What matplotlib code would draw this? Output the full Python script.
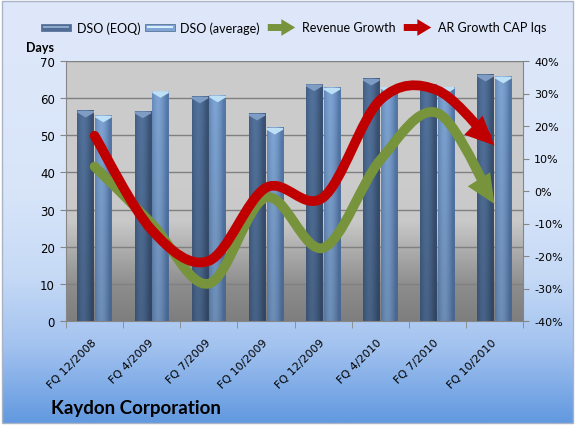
import numpy as np
import matplotlib
matplotlib.use("Agg")
import matplotlib.pyplot as plt
from matplotlib.path import Path
from matplotlib.patches import PathPatch, Rectangle, Polygon, FancyArrowPatch
from matplotlib.colors import LinearSegmentedColormap, to_rgb

quarters = ["FQ 12/2008", "FQ 4/2009", "FQ 7/2009", "FQ 10/2009",
            "FQ 12/2009", "FQ 4/2010", "FQ 7/2010", "FQ 10/2010"]
dso_eoq = [56.6, 56.4, 60.4, 55.8, 63.7, 65.2, 63.7, 66.3]
dso_avg = [55.3, 61.9, 60.7, 52.0, 62.8, 63.0, 63.0, 65.8]
revenue_growth = [7.5, -10.0, -28.5, -2.0, -17.5, 9.5, 24.0, -4.0]
ar_growth = [17.0, -12.0, -21.5, 1.0, -2.0, 28.0, 31.0, 14.0]

W, H = 575, 427
RED = "#c00000"
GREEN = "#77933c"


def fx(px):
    return px / W


def fy(py):
    return 1 - py / H


def vgrad(stops):
    cmap = LinearSegmentedColormap.from_list("g", stops)
    return cmap(np.linspace(0, 1, 256))[:, None, :3]


def smooth_path(xs, ys, cut=0.8):
    """Catmull-Rom style bezier through the points; last segment cut short for the arrow head."""
    pts = np.column_stack([xs, ys]).astype(float)
    ext = np.vstack([pts[0], pts, pts[-1]])
    verts = [pts[0]]
    codes = [Path.MOVETO]
    for i in range(len(pts) - 1):
        p0, p1, p2, p3 = ext[i], ext[i + 1], ext[i + 2], ext[i + 3]
        c1 = p1 + (p2 - p0) / 6
        c2 = p2 - (p3 - p1) / 6
        verts += [c1, c2, p2]
        codes += [Path.CURVE4] * 3
    # de Casteljau split of the last segment
    p0, c1, c2, p3 = verts[-4], verts[-3], verts[-2], verts[-1]
    a = p0 + (c1 - p0) * cut
    b = c1 + (c2 - c1) * cut
    c = c2 + (p3 - c2) * cut
    d = a + (b - a) * cut
    e = b + (c - b) * cut
    f = d + (e - d) * cut
    tail_dir = c2
    verts[-3:] = [a, d, f]
    return Path(verts, codes), tail_dir, pts[-1]


fig = plt.figure(figsize=(W / 100, H / 100), dpi=100, facecolor="white")

# figure background gradient
bg = fig.add_axes([fx(2), 1 - 424 / H, fx(571), 422 / H], zorder=-10)
bg.imshow(vgrad([(0, "#dfe8fa"), (0.45, "#d8e5f9"), (0.65, "#c6daf6"),
                 (0.82, "#a2c2ef"), (1, "#6299e0")]),
          aspect="auto", extent=[0, 1, 0, 1])
bg.set_axis_off()
fig.add_artist(Rectangle((fx(2), 1 - 424 / H), fx(571), 422 / H, transform=fig.transFigure,
                         fill=False, edgecolor="#a9b4c6", lw=1))

ax = fig.add_axes([fx(66), fy(322), fx(523 - 66), (322 - 62) / H])
ax.set_zorder(1)
x = np.arange(len(quarters))

# plot area gradient
ax.imshow(vgrad([(0, "#cbcbcb"), (0.45, "#cccccc"), (0.62, "#c8c8c8"),
                 (0.74, "#aaaaaa"), (0.87, "#8c8c8c"), (1, "#7e7e7e")]),
          aspect="auto", extent=[-0.5, 7.5, 0, 70], zorder=-1)


def draw_bar(cx, h, edge, mid, cap):
    w = 0.29
    edge, mid = np.array(to_rgb(edge)), np.array(to_rgb(mid))
    prof = 1 - np.abs(np.linspace(-1, 1, 40) + 0.25) ** 1.6
    prof = np.clip(prof, 0, 1)
    row = edge[None, :] + (mid - edge)[None, :] * prof[:, None]
    shade = np.linspace(1.0, 0.86, 60)[:, None, None]
    img = np.clip(row[None, :, :] * shade, 0, 1)
    ax.imshow(img, aspect="auto", extent=[cx, cx + w, 0, h], zorder=2)
    ax.add_patch(Polygon([(cx, h), (cx + w, h), (cx + w, h - 0.5),
                          (cx + w / 2, h - 1.8), (cx, h - 0.5)],
                         closed=True, facecolor=cap, edgecolor="none", zorder=3))


for i in range(len(quarters)):
    draw_bar(x[i] - 0.30, dso_eoq[i], "#3a5273", "#52729c", "#7f9dc4")
    draw_bar(x[i] + 0.01, dso_avg[i], "#5578a8", "#7ea4d3", "#bde0f6")

ax.set_xlim(-0.5, 7.5)
ax.set_ylim(0, 70)
ax.set_yticks(range(0, 71, 10))
ax.yaxis.grid(True, color="#808080", lw=1, zorder=0.5)
ax.set_axisbelow(True)
ax.set_xticks(x)
ax.set_xticklabels(quarters, rotation=45, ha="right", va="center",
                   rotation_mode="anchor", fontsize=8, family="DejaVu Sans")
ax.set_xticks(np.arange(-0.5, 8, 1), minor=True)
ax.tick_params(axis="x", which="major", length=0, pad=14)
ax.tick_params(axis="x", which="minor", length=5, color="#868686")
ax.tick_params(axis="y", length=4, color="#868686", labelsize=8.5, pad=4)
for s in ["top", "right"]:
    ax.spines[s].set_visible(False)
for s in ["left", "bottom"]:
    ax.spines[s].set_color("#868686")

ax2 = ax.twinx()
ax2.set_ylim(-40, 40)
ax2.set_yticks(range(-40, 41, 10))
ax2.set_yticklabels([f"{v}%" for v in range(-40, 41, 10)])
ax2.tick_params(axis="y", length=4, color="#868686", labelsize=8, pad=4)
for s in ["top", "left", "bottom"]:
    ax2.spines[s].set_visible(False)
ax2.spines["right"].set_color("#868686")

for vals, col, z in [(revenue_growth, GREEN, 4), (ar_growth, RED, 5)]:
    path, tail, tip = smooth_path(x, vals)
    ax2.add_patch(PathPatch(path, facecolor="none", edgecolor=col, lw=7,
                            capstyle="round", joinstyle="round", zorder=z))
    ax2.annotate("", xy=tip, xytext=tail, zorder=z,
                 arrowprops=dict(arrowstyle="-|>,head_length=2.1,head_width=0.95",
                                 mutation_scale=10, lw=0, color=col,
                                 shrinkA=0, shrinkB=0))

# legend
ly = fy(28.5)
for x0, face, line, label, tx in [(41, "#4f6d96", "#8ea8ca", "DSO (EOQ)", 77),
                                  (145, "#7ea5d5", "#d8eefb", "DSO (average)", 180)]:
    fig.add_artist(Rectangle((fx(x0), ly - 3.5 / H), fx(30), 7 / H, transform=fig.transFigure,
                             facecolor=face, edgecolor="#5a7498", lw=0.6))
    fig.add_artist(Rectangle((fx(x0 + 2), ly - 0.2 / H), fx(26), 1.6 / H, transform=fig.transFigure,
                             facecolor=line, edgecolor="none"))
    fig.text(fx(tx), ly, label, fontsize=9, family="Lato", va="center", ha="left")

for x0, col, label, tx in [(265, GREEN, "Revenue Growth", 302),
                           (401, RED, "AR Growth CAP Iqs", 438)]:
    fig.add_artist(FancyArrowPatch((fx(x0), ly), (fx(x0 + 33), ly), transform=fig.transFigure,
                                   arrowstyle="simple,head_length=1.0,head_width=1.2,tail_width=0.5",
                                   mutation_scale=10, color=col, lw=0))
    fig.text(fx(tx), ly, label, fontsize=9, family="Lato", va="center", ha="left")

fig.text(fx(54), fy(48), "Days", fontsize=9, family="Lato", weight="bold",
         ha="right", va="center")
fig.text(fx(51), fy(409), "Kaydon Corporation", fontsize=13.5, family="Lato",
         weight="bold", ha="left", va="center")

fig.savefig("out.png", dpi=100)
